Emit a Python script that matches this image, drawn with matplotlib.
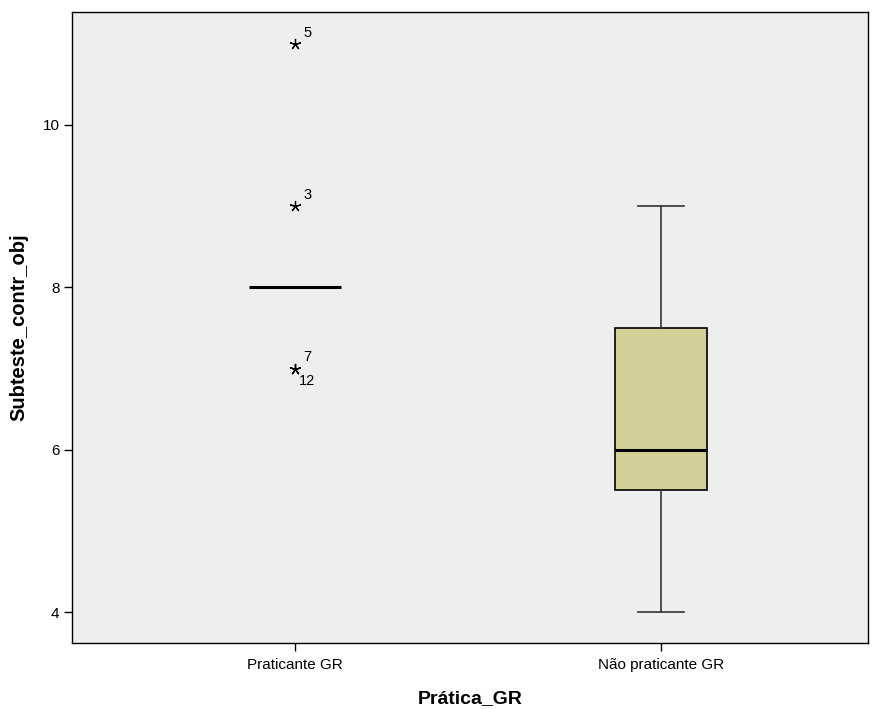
import matplotlib
matplotlib.use("Agg")
import matplotlib.pyplot as plt

plt.rcParams['font.family'] = ['Liberation Sans', 'DejaVu Sans']

categories = ["Praticante GR", "Não praticante GR"]
whislo = [8, 4]
q1 = [8, 5.5]
med = [8, 6]
q3 = [8, 7.5]
whishi = [8, 9]
outliers = [[11, 9, 7, 7], []]
outlier_ids = [["5", "3", "7", "12"], []]
yticks = [4, 6, 8, 10]

fig = plt.figure(figsize=(8.72, 7.09), dpi=100)
fig.patch.set_facecolor("white")
ax = fig.add_axes([72/872, 66/709, 796/872, 631/709])
ax.set_facecolor("#EEEEEE")

stats = []
for i in range(len(categories)):
    stats.append(dict(whislo=whislo[i], q1=q1[i], med=med[i], q3=q3[i],
                      whishi=whishi[i], fliers=[], label=categories[i]))

positions = [1, 2]
bp = ax.bxp(stats, positions=positions, widths=0.251, patch_artist=True,
            showfliers=False,
            boxprops=dict(facecolor="#D3CF98", edgecolor="black", linewidth=1.2),
            medianprops=dict(color="black", linewidth=2.2),
            whiskerprops=dict(color="#333333", linewidth=1.2),
            capprops=dict(color="#333333", linewidth=1.2),
            capwidths=0.126)

# Group 1: box collapsed; hide box/whiskers, keep median line
bp['boxes'][0].set_visible(False)
for w in bp['whiskers'][0:2]:
    w.set_visible(False)
for c in bp['caps'][0:2]:
    c.set_visible(False)

for i, (vals, ids) in enumerate(zip(outliers, outlier_ids)):
    seen = {}
    for v, lab in zip(vals, ids):
        ax.plot(positions[i], v, marker=(5, 2), color="black", markersize=8,
                markeredgewidth=0.9, linestyle="none")
        n = seen.get(v, 0)
        if n == 0:
            ax.annotate(lab, (positions[i], v), xytext=(6, 3), textcoords="offset points",
                        fontsize=10.5, ha="left", va="bottom")
        else:
            ax.annotate(lab, (positions[i], v), xytext=(3, -4), textcoords="offset points",
                        fontsize=10.5, ha="left", va="top")
        seen[v] = n + 1

ax.set_xlim(0.391, 2.566)
ax.set_ylim(3.62, 11.39)
ax.set_yticks(yticks)
ax.set_yticklabels([str(t) for t in yticks])
ax.set_xticks(positions)
ax.set_xticklabels(categories)
ax.tick_params(axis="both", labelsize=11, length=6, width=1, color="black", pad=3)
ax.tick_params(axis="x", pad=5)
ax.set_xlabel("Prática_GR", fontsize=14, fontweight="bold", labelpad=13)
ax.set_ylabel("Subteste_contr_obj", fontsize=14.5, fontweight="bold", labelpad=10)
for s in ax.spines.values():
    s.set_linewidth(1)
    s.set_color("black")

fig.savefig("out.png", dpi=100, facecolor="white")
